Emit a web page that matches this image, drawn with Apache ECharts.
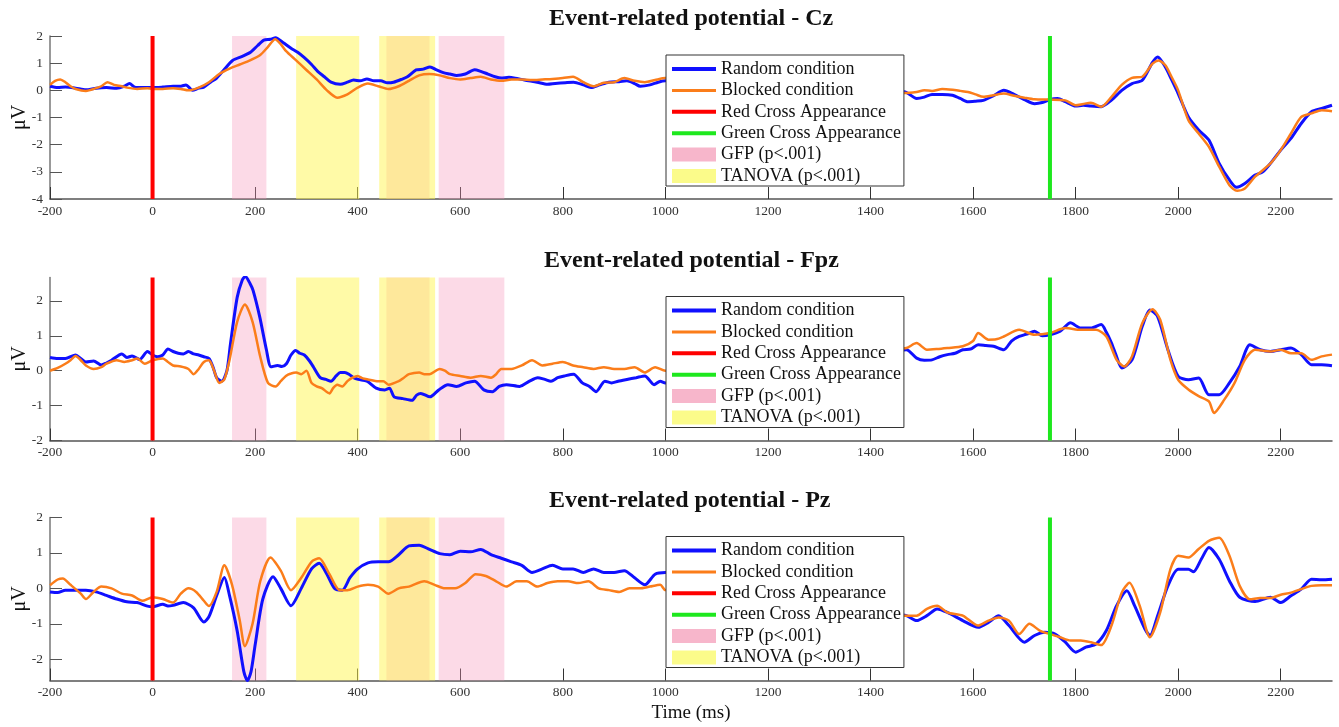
<!DOCTYPE html>
<html>
<head>
<meta charset="utf-8">
<script src="https://cdn.jsdelivr.net/npm/echarts@6/dist/echarts.min.js"></script>
<style>
html,body{margin:0;padding:0;background:#fff;}
#chart{width:1339px;height:727px;}
</style>
</head>
<body>
<div id="chart"></div>
<script>
// time axis
var xTicks = [-200, 0, 200, 400, 600, 800, 1000, 1200, 1400, 1600, 1800, 2000, 2200];
var redCross = 0, greenCross = 1750;
var gfpRanges = [[155, 222], [456, 540], [558, 686]];
var tanovaRanges = [[280, 403], [442, 551]];

var titles = ['Event-related potential - Cz', 'Event-related potential - Fpz', 'Event-related potential - Pz'];
var yRanges = [[-4, 2], [-2, 2.67], [-2.6, 2]];
var yTicks = [[-4, -3, -2, -1, 0, 1, 2], [-2, -1, 0, 1, 2], [-2, -1, 0, 1, 2]];

// Cz
var czRandom = [[-200,0.15],[-185,0.1],[-170,0.12],[-150,0.08],[-130,0.02],[-110,0.08],[-90,0.1],[-70,0.08],[-55,0.15],[-45,0.25],[-35,0.12],[-20,0.1],[0,0.1],[20,0.12],[40,0.15],[55,0.15],[65,0.2],[78,0.0],[90,0.08],[100,0.12],[113,0.3],[125,0.45],[139,0.75],[156,1.1],[175,1.25],[191,1.4],[205,1.65],[217,1.85],[230,1.88],[240,1.94],[255,1.75],[270,1.55],[283,1.4],[296,1.2],[310,0.95],[322,0.7],[335,0.5],[348,0.3],[366,0.22],[380,0.3],[392,0.38],[405,0.35],[418,0.42],[432,0.35],[445,0.35],[458,0.28],[470,0.3],[485,0.4],[497,0.5],[514,0.75],[528,0.78],[541,0.86],[554,0.75],[567,0.65],[580,0.6],[593,0.55],[610,0.6],[628,0.76],[640,0.7],[654,0.6],[668,0.5],[680,0.45],[695,0.48],[707,0.45],[725,0.38],[750,0.3],[770,0.22],[785,0.25],[805,0.28],[821,0.3],[840,0.2],[855,0.1],[872,0.2],[890,0.3],[910,0.32],[925,0.35],[940,0.25],[951,0.15],[970,0.2],[986,0.3],[1000,0.35],[1050,0.3],[1100,0.2],[1150,0.25],[1200,0.15],[1250,0.1],[1300,0.15],[1350,0.05],[1400,0.0],[1440,-0.05],[1466,-0.05],[1490,-0.3],[1505,-0.25],[1520,-0.15],[1540,-0.15],[1560,-0.18],[1575,-0.3],[1590,-0.42],[1605,-0.4],[1620,-0.37],[1640,-0.2],[1660,0.0],[1680,-0.15],[1700,-0.34],[1720,-0.49],[1735,-0.45],[1750,-0.34],[1765,-0.3],[1780,-0.42],[1800,-0.58],[1815,-0.55],[1830,-0.58],[1850,-0.6],[1870,-0.36],[1890,0.0],[1910,0.25],[1930,0.37],[1950,1.03],[1960,1.23],[1975,0.86],[1987,0.4],[2000,-0.12],[2020,-0.98],[2040,-1.46],[2060,-1.83],[2080,-2.69],[2100,-3.3],[2114,-3.57],[2130,-3.43],[2150,-3.12],[2165,-3.0],[2180,-2.69],[2200,-2.2],[2220,-1.77],[2240,-1.22],[2260,-0.79],[2280,-0.67],[2300,-0.55]];
var czBlocked = [[-200,0.2],[-190,0.35],[-180,0.4],[-170,0.3],[-160,0.15],[-150,0.05],[-130,-0.02],[-110,0.08],[-100,0.15],[-88,0.3],[-75,0.2],[-60,0.15],[-50,0.1],[-30,0.05],[-10,0.08],[0,0.05],[20,0.05],[40,0.08],[55,0.05],[70,0.0],[90,0.1],[110,0.3],[130,0.6],[150,0.8],[170,0.95],[190,1.1],[210,1.3],[225,1.6],[239,1.88],[250,1.7],[260,1.45],[280,1.1],[300,0.75],[320,0.4],[340,0.0],[360,-0.27],[380,-0.15],[400,0.1],[420,0.25],[440,0.15],[460,0.05],[480,0.15],[500,0.35],[520,0.55],[540,0.6],[560,0.55],[580,0.45],[600,0.4],[620,0.45],[640,0.5],[660,0.4],[680,0.35],[700,0.4],[720,0.4],[740,0.38],[760,0.4],[780,0.42],[800,0.45],[820,0.5],[840,0.3],[860,0.15],[880,0.28],[900,0.3],[920,0.45],[940,0.35],[960,0.3],[980,0.38],[1000,0.45],[1050,0.35],[1100,0.25],[1150,0.3],[1200,0.2],[1250,0.15],[1300,0.1],[1350,0.1],[1400,0.0],[1440,-0.05],[1466,-0.1],[1490,-0.06],[1505,0.0],[1520,-0.02],[1540,0.05],[1560,0.02],[1575,-0.02],[1590,-0.06],[1605,-0.15],[1620,-0.24],[1640,-0.18],[1660,-0.12],[1680,-0.2],[1700,-0.27],[1720,-0.33],[1750,-0.34],[1780,-0.37],[1800,-0.55],[1815,-0.5],[1830,-0.46],[1850,-0.6],[1870,-0.24],[1890,0.2],[1910,0.46],[1930,0.5],[1950,0.98],[1962,1.1],[1975,0.92],[1987,0.5],[2000,0.0],[2020,-1.1],[2040,-1.59],[2060,-2.08],[2080,-2.81],[2100,-3.49],[2115,-3.7],[2130,-3.61],[2150,-3.18],[2180,-2.69],[2200,-2.2],[2220,-1.59],[2240,-0.98],[2260,-0.85],[2280,-0.73],[2300,-0.77]];

// Fpz
var fpzRandom = [[-200,0.38],[-185,0.35],[-170,0.35],[-150,0.45],[-140,0.35],[-130,0.25],[-115,0.28],[-100,0.16],[-90,0.22],[-80,0.3],[-60,0.48],[-50,0.38],[-40,0.42],[-25,0.32],[-10,0.55],[0,0.45],[10,0.4],[20,0.45],[30,0.62],[40,0.55],[50,0.5],[60,0.48],[70,0.55],[80,0.48],[90,0.45],[100,0.4],[110,0.35],[118,0.1],[125,-0.2],[135,-0.3],[145,0.0],[152,0.78],[165,2.1],[175,2.6],[181,2.7],[190,2.5],[196,2.3],[209,1.54],[222,0.6],[231,0.11],[244,0.15],[252,0.12],[261,0.2],[270,0.45],[279,0.58],[287,0.5],[296,0.45],[305,0.3],[314,0.1],[327,-0.2],[338,-0.25],[348,-0.3],[358,-0.15],[366,-0.05],[375,-0.05],[383,-0.1],[392,-0.2],[401,-0.25],[418,-0.3],[436,-0.5],[453,-0.55],[462,-0.5],[471,-0.75],[488,-0.8],[506,-0.85],[515,-0.7],[523,-0.65],[541,-0.75],[558,-0.55],[576,-0.4],[593,-0.45],[611,-0.35],[628,-0.3],[646,-0.55],[663,-0.6],[676,-0.45],[690,-0.4],[716,-0.45],[735,-0.3],[751,-0.2],[765,-0.25],[777,-0.3],[790,-0.2],[803,-0.15],[821,-0.1],[838,-0.35],[852,-0.45],[865,-0.6],[882,-0.3],[895,-0.35],[908,-0.3],[925,-0.25],[943,-0.2],[960,-0.15],[978,-0.4],[990,-0.3],[1000,-0.35],[1050,-0.2],[1100,-0.1],[1150,0.0],[1200,0.1],[1250,0.15],[1300,0.25],[1350,0.3],[1400,0.45],[1440,0.55],[1470,0.6],[1490,0.36],[1505,0.3],[1520,0.31],[1535,0.4],[1550,0.46],[1565,0.5],[1580,0.6],[1595,0.62],[1610,0.74],[1625,0.72],[1640,0.7],[1660,0.6],[1675,0.85],[1690,0.98],[1705,1.05],[1720,1.13],[1735,1.0],[1750,1.03],[1770,1.13],[1790,1.37],[1810,1.22],[1830,1.22],[1850,1.32],[1860,1.1],[1870,0.79],[1880,0.4],[1890,0.08],[1910,0.31],[1930,1.27],[1945,1.74],[1960,1.55],[1980,0.6],[2000,-0.16],[2020,-0.26],[2040,-0.21],[2060,-0.69],[2080,-0.69],[2100,-0.35],[2120,0.12],[2140,0.74],[2160,0.6],[2180,0.55],[2200,0.6],[2220,0.65],[2240,0.46],[2260,0.17],[2280,0.17],[2300,0.14]];
var fpzBlocked = [[-200,0.0],[-185,0.08],[-170,0.2],[-160,0.3],[-150,0.42],[-140,0.3],[-130,0.15],[-115,0.05],[-100,0.1],[-90,0.2],[-70,0.3],[-55,0.25],[-40,0.3],[-30,0.35],[-15,0.2],[0,0.3],[20,0.35],[30,0.25],[40,0.15],[55,0.12],[70,0.05],[80,-0.1],[90,0.05],[100,0.25],[110,0.3],[120,0.0],[130,-0.35],[140,-0.25],[150,0.3],[165,1.4],[180,1.9],[195,1.4],[210,0.4],[225,-0.35],[240,-0.45],[250,-0.3],[260,-0.15],[270,-0.08],[280,-0.05],[290,-0.1],[300,0.0],[310,-0.35],[320,-0.45],[330,-0.5],[345,-0.65],[352,-0.5],[360,-0.4],[370,-0.45],[380,-0.3],[390,-0.2],[400,-0.15],[410,-0.22],[420,-0.25],[440,-0.3],[450,-0.3],[460,-0.4],[480,-0.3],[490,-0.2],[500,-0.1],[520,-0.05],[530,-0.1],[540,-0.1],[560,0.05],[570,0.0],[580,-0.1],[600,-0.15],[620,-0.2],[640,-0.15],[660,-0.2],[670,-0.1],[680,0.05],[700,0.05],[720,0.15],[740,0.3],[760,0.15],[780,0.2],[800,0.25],[820,0.15],[840,0.1],[860,0.05],[880,0.1],[900,0.05],[920,0.05],[940,0.1],[960,-0.05],[980,0.1],[1000,0.0],[1050,0.05],[1100,0.1],[1150,0.15],[1200,0.2],[1250,0.3],[1300,0.35],[1350,0.4],[1400,0.5],[1440,0.6],[1470,0.65],[1490,0.79],[1510,0.6],[1530,0.62],[1550,0.65],[1580,0.7],[1600,0.85],[1610,1.08],[1630,0.89],[1645,0.9],[1660,0.98],[1690,1.17],[1720,1.03],[1750,1.08],[1780,1.22],[1810,1.17],[1840,1.17],[1860,0.98],[1880,0.31],[1895,0.12],[1910,0.41],[1930,1.36],[1950,1.76],[1965,1.46],[1985,0.31],[2000,-0.26],[2020,-0.54],[2040,-0.73],[2060,-0.88],[2070,-1.21],[2090,-0.83],[2110,-0.35],[2130,0.31],[2150,0.6],[2180,0.55],[2200,0.6],[2220,0.5],[2240,0.5],[2260,0.31],[2280,0.41],[2300,0.46]];

// Pz
var pzRandom = [[-200,-0.1],[-185,-0.12],[-170,-0.05],[-150,-0.05],[-130,-0.05],[-110,-0.1],[-90,-0.2],[-70,-0.3],[-50,-0.38],[-30,-0.4],[-10,-0.5],[0,-0.52],[20,-0.45],[30,-0.5],[40,-0.48],[60,-0.4],[80,-0.55],[100,-0.95],[110,-0.8],[125,-0.2],[140,0.31],[150,-0.2],[165,-1.2],[178,-2.35],[185,-2.6],[192,-2.35],[200,-1.6],[215,-0.3],[235,0.33],[250,0.0],[270,-0.49],[290,0.0],[310,0.55],[325,0.71],[340,0.4],[355,0.0],[370,-0.05],[385,0.3],[400,0.55],[420,0.72],[440,0.75],[460,0.75],[480,0.95],[500,1.2],[520,1.22],[540,1.1],[560,0.98],[580,0.95],[600,1.05],[620,1.03],[640,1.1],[660,0.95],[680,0.85],[700,0.75],[720,0.65],[740,0.45],[760,0.55],[780,0.65],[800,0.55],[820,0.55],[840,0.45],[860,0.55],[880,0.45],[900,0.45],[920,0.5],[940,0.3],[960,0.1],[980,0.4],[1000,0.45],[1050,0.3],[1100,0.1],[1150,-0.1],[1200,-0.25],[1250,-0.35],[1300,-0.45],[1350,-0.55],[1400,-0.65],[1440,-0.72],[1470,-0.77],[1490,-0.91],[1510,-0.77],[1530,-0.58],[1550,-0.68],[1580,-0.91],[1610,-1.1],[1630,-0.96],[1650,-0.77],[1670,-1.05],[1700,-1.52],[1720,-1.33],[1740,-1.24],[1760,-1.29],[1780,-1.52],[1800,-1.8],[1820,-1.66],[1840,-1.57],[1860,-1.19],[1880,-0.49],[1900,-0.07],[1915,-0.49],[1935,-1.14],[1945,-1.33],[1960,-0.77],[1980,0.07],[2000,0.54],[2020,0.54],[2030,0.47],[2045,0.82],[2060,1.15],[2080,0.82],[2100,0.21],[2120,-0.25],[2150,-0.37],[2180,-0.25],[2200,-0.4],[2220,-0.21],[2240,-0.02],[2260,0.26],[2280,0.24],[2300,0.26]];
var pzBlocked = [[-200,0.09],[-185,0.25],[-175,0.28],[-160,0.1],[-140,-0.15],[-130,-0.3],[-115,-0.1],[-100,0.05],[-80,0.0],[-60,-0.15],[-40,-0.2],[-20,-0.35],[0,-0.25],[20,-0.3],[40,-0.4],[55,-0.15],[70,0.0],[85,-0.1],[100,-0.35],[110,-0.5],[125,-0.1],[140,0.65],[155,0.1],[170,-0.9],[180,-1.63],[195,-1.0],[210,0.2],[230,0.87],[250,0.5],[270,-0.05],[290,0.3],[310,0.75],[325,0.85],[345,0.4],[365,-0.05],[380,-0.05],[400,0.05],[420,0.1],[440,0.05],[460,-0.15],[480,0.0],[500,0.05],[530,0.2],[550,0.1],[570,0.0],[590,0.0],[610,0.15],[630,0.4],[650,0.35],[670,0.2],[690,0.05],[710,0.2],[730,0.2],[750,0.05],[770,0.15],[790,0.2],[810,0.2],[830,0.15],[850,0.2],[870,0.0],[890,-0.05],[910,-0.1],[930,0.0],[950,0.0],[970,0.05],[990,0.1],[1000,-0.05],[1050,-0.1],[1100,-0.2],[1150,-0.25],[1200,-0.35],[1250,-0.4],[1300,-0.5],[1350,-0.6],[1400,-0.65],[1440,-0.72],[1470,-0.77],[1490,-0.77],[1510,-0.58],[1530,-0.49],[1550,-0.68],[1580,-0.77],[1610,-1.05],[1630,-0.91],[1650,-0.82],[1670,-0.91],[1690,-1.29],[1710,-1.0],[1730,-1.19],[1750,-1.29],[1770,-1.38],[1790,-1.47],[1810,-1.47],[1830,-1.52],[1850,-1.6],[1870,-1.05],[1890,-0.12],[1905,0.16],[1925,-0.49],[1945,-1.38],[1965,-0.68],[1985,0.54],[2000,0.92],[2020,0.87],[2040,1.11],[2060,1.34],[2080,1.43],[2100,0.92],[2120,0.07],[2140,-0.31],[2160,-0.27],[2180,-0.27],[2200,-0.18],[2220,-0.12],[2240,-0.02],[2260,0.07],[2280,0.09],[2300,0.09]];

var randomData = [czRandom, fpzRandom, pzRandom];
var blockedData = [czBlocked, fpzBlocked, pzBlocked];

var FONT = 'Liberation Serif';
var gridTops = [36, 277.5, 517.5];
var titleLefts = [549, 544, 549];

var myChart = echarts.init(document.getElementById('chart'));

var grids = [], xAxes = [], yAxes = [], series = [], titleList = [], legends = [];

function areas(ranges) {
    return ranges.map(function (r) { return [{xAxis: r[0]}, {xAxis: r[1]}]; });
}
function plain(v) { return String(v); }

for (var i = 0; i < 3; i++) {
    var ymin = yRanges[i][0], ymax = yRanges[i][1];
    grids.push({left: 50, right: 7, top: gridTops[i], height: 163, containLabel: false, outerBoundsMode: 'none'});
    titleList.push({
        text: titles[i], left: titleLefts[i], top: gridTops[i] - 29, padding: 0,
        textStyle: {fontFamily: FONT, fontSize: 24, fontWeight: 'bold', color: '#111'}
    });
    xAxes.push({
        type: 'value', gridIndex: i, min: -200, max: 2300,
        name: i === 2 ? 'Time (ms)' : '', nameLocation: 'middle', nameGap: 23,
        nameTextStyle: {fontFamily: FONT, fontSize: 19, color: '#111'},
        axisLine: {onZero: false, lineStyle: {color: '#555', width: 1.5}},
        axisTick: {inside: true, length: 12, customValues: xTicks, lineStyle: {color: '#333', width: 1}},
        axisLabel: {customValues: xTicks, formatter: plain, margin: 5, fontFamily: FONT, fontSize: 13.5, color: '#333'},
        splitLine: {show: false}
    });
    yAxes.push({
        type: 'value', gridIndex: i, min: ymin, max: ymax,
        name: 'μV', nameLocation: 'middle', nameGap: 20, nameMoveOverlap: false,
        nameTextStyle: {fontFamily: FONT, fontSize: 20, color: '#111'},
        axisLine: {show: true, onZero: false, lineStyle: {color: '#777', width: 1.5}},
        axisTick: {show: true, inside: true, length: 12, customValues: yTicks[i], lineStyle: {color: '#555', width: 1}},
        axisLabel: {customValues: yTicks[i], formatter: plain, margin: 7, fontFamily: FONT, fontSize: 13.5, color: '#333'},
        splitLine: {show: false}
    });
    series.push({
        name: 'GFP (p<.001)', type: 'line', xAxisIndex: i, yAxisIndex: i, data: [], z: 1,
        color: '#f7b6cb', symbol: 'none',
        markArea: {silent: true, itemStyle: {color: 'rgba(245,150,185,0.35)'}, data: areas(gfpRanges)}
    });
    series.push({
        name: 'TANOVA (p<.001)', type: 'line', xAxisIndex: i, yAxisIndex: i, data: [], z: 1,
        color: '#fbfb8a', symbol: 'none',
        markArea: {silent: true, itemStyle: {color: 'rgba(255,245,80,0.5)'}, data: areas(tanovaRanges)}
    });
    series.push({
        name: 'Random condition', type: 'line', xAxisIndex: i, yAxisIndex: i, data: randomData[i], z: 3,
        symbol: 'none', smooth: 0.25, color: '#1010ff', lineStyle: {width: 3}
    });
    series.push({
        name: 'Blocked condition', type: 'line', xAxisIndex: i, yAxisIndex: i, data: blockedData[i], z: 4,
        symbol: 'none', smooth: 0.25, color: '#fb7d1a', lineStyle: {width: 2.5}
    });
    series.push({
        name: 'Red Cross Appearance', type: 'line', xAxisIndex: i, yAxisIndex: i, z: 5,
        data: [[redCross, ymin], [redCross, ymax]], symbol: 'none', color: '#ff0000', lineStyle: {width: 4}
    });
    series.push({
        name: 'Green Cross Appearance', type: 'line', xAxisIndex: i, yAxisIndex: i, z: 5,
        data: [[greenCross, ymin], [greenCross, ymax]], symbol: 'none', color: '#1ee81e', lineStyle: {width: 4}
    });
    legends.push({
        orient: 'vertical', left: 666, top: gridTops[i] + 19, z: 10,
        backgroundColor: '#fff', borderColor: '#333', borderWidth: 1, borderRadius: 0,
        padding: [5, 3, 1, 4], itemGap: 3.4, itemWidth: 44, itemHeight: 14,
        textStyle: {fontFamily: FONT, fontSize: 18, color: '#111'},
        itemStyle: {color: 'rgba(0,0,0,0)', borderWidth: 0},
        selectedMode: false,
        data: [
            {name: 'Random condition', lineStyle: {width: 4}},
            {name: 'Blocked condition', lineStyle: {width: 3}},
            {name: 'Red Cross Appearance', lineStyle: {width: 4}},
            {name: 'Green Cross Appearance', lineStyle: {width: 4}},
            {name: 'GFP (p<.001)', icon: 'rect', itemStyle: {color: '#f7b6cb', borderWidth: 0}},
            {name: 'TANOVA (p<.001)', icon: 'rect', itemStyle: {color: '#fbfb8a', borderWidth: 0}}
        ]
    });
}

var option = {
    animation: false,
    backgroundColor: '#fff',
    title: titleList,
    legend: legends,
    grid: grids,
    xAxis: xAxes,
    yAxis: yAxes,
    series: series
};
myChart.setOption(option);
</script>
</body>
</html>
